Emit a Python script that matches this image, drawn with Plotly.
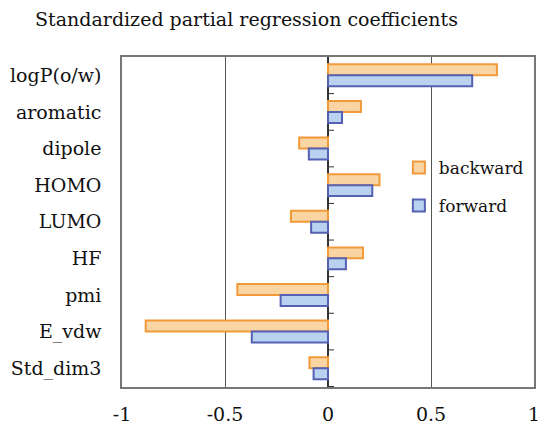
import plotly.graph_objects as go

categories = ["logP(o/w)", "aromatic", "dipole", "HOMO", "LUMO", "HF", "pmi", "E_vdw", "Std_dim3"]
backward = [0.82, 0.16, -0.14, 0.25, -0.18, 0.17, -0.44, -0.885, -0.09]
forward = [0.70, 0.068, -0.093, 0.215, -0.082, 0.087, -0.23, -0.37, -0.07]
x_ticks = [-1, -0.5, 0, 0.5, 1]
x_tick_text = ["-1", "-0.5", "0", "0.5", "1"]

FONT = "DejaVu Serif"

fig = go.Figure()
fig.add_trace(go.Bar(
    y=categories, x=backward, orientation="h", name="backward",
    marker=dict(color="#F8D5A3", line=dict(color="#F29A3A", width=2)),
    legend="legend", showlegend=True,
))
fig.add_trace(go.Bar(
    y=categories, x=forward, orientation="h", name="forward",
    marker=dict(color="#B8D2F0", line=dict(color="#5561B3", width=2)),
    legend="legend2", showlegend=True,
))

# y-axis tick marks on the zero line at category boundaries
shapes = []
for k in range(1, len(categories) + 1):
    shapes.append(dict(
        type="line", xref="x", yref="y", xsizemode="pixel", xanchor=0,
        x0=0, x1=6, y0=k - 0.5, y1=k - 0.5,
        line=dict(color="#333333", width=1),
    ))

fig.update_layout(
    width=540, height=427,
    margin=dict(l=122, r=6, t=57, b=40),
    paper_bgcolor="white", plot_bgcolor="white",
    barmode="group", bargap=0.4, bargroupgap=0.0,
    showlegend=True,
    font=dict(family=FONT, size=19, color="#111111"),
    title=dict(text="Standardized partial regression coefficients",
               x=0.065, xanchor="left", y=0.955, yanchor="middle",
               font=dict(family=FONT, size=19, color="#111111")),
    xaxis=dict(range=[-1, 1], tickvals=x_ticks, ticktext=x_tick_text,
               showgrid=True, gridcolor="#555555", gridwidth=1,
               zeroline=True, zerolinecolor="#333333", zerolinewidth=1.5,
               showline=True, linecolor="#777777", linewidth=1.5, mirror=True,
               ticks="", ticklabelstandoff=9, automargin=False,
               ticklabeloverflow="allow",
               tickfont=dict(family=FONT, size=19, color="#111111")),
    yaxis=dict(autorange="reversed", showgrid=False, zeroline=False,
               showline=True, linecolor="#777777", linewidth=1.5, mirror=True,
               ticks="", ticklabelstandoff=15, automargin=False,
               tickfont=dict(family=FONT, size=19, color="#111111")),
    legend=dict(visible=True, x=0.672, y=0.718, xanchor="left", yanchor="top",
                bgcolor="rgba(0,0,0,0)", font=dict(family=FONT, size=17)),
    legend2=dict(visible=True, x=0.672, y=0.603, xanchor="left", yanchor="top",
                 bgcolor="rgba(0,0,0,0)", font=dict(family=FONT, size=17)),
    shapes=shapes,
)

fig.write_html("out.html")
